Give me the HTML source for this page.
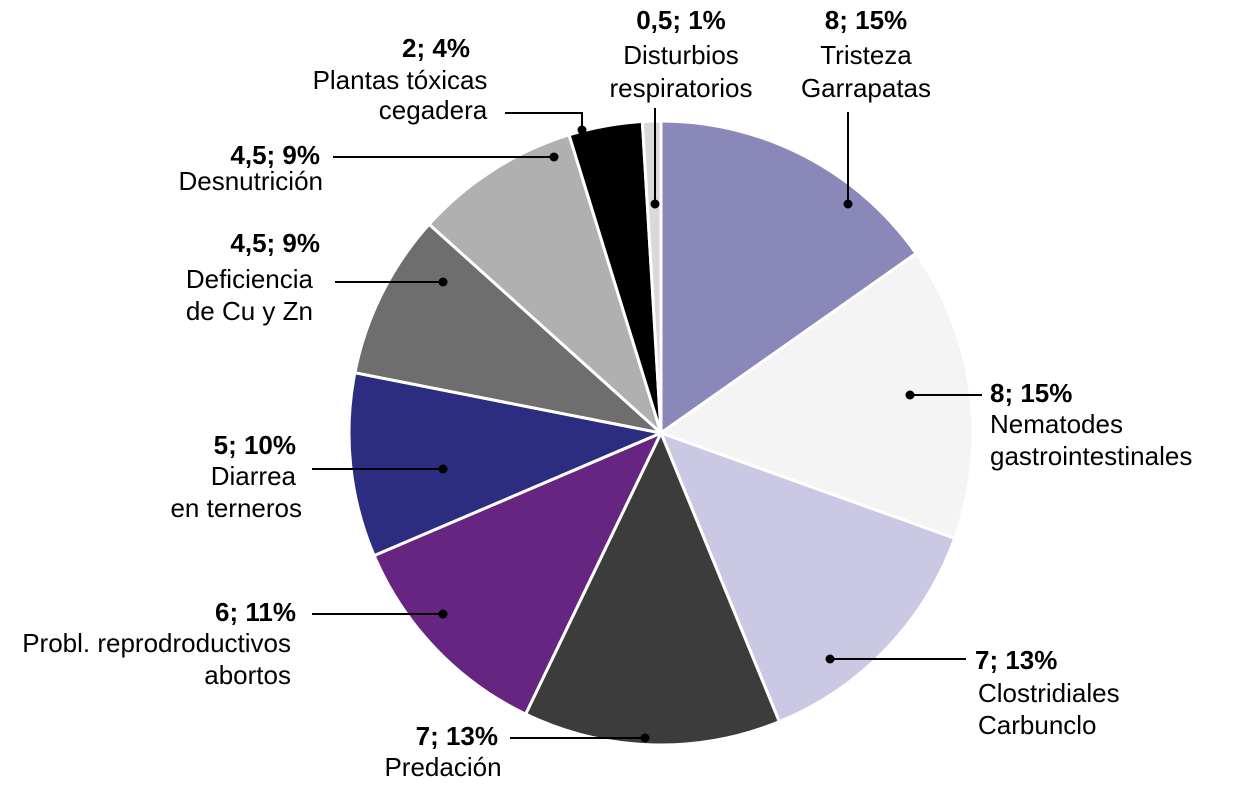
<!DOCTYPE html>
<html><head><meta charset="utf-8"><style>
body{margin:0;background:#fff;}
svg{display:block;font-family:"Liberation Sans",Arial,sans-serif;font-size:26px;}
.b{font-weight:bold;}
</style></head><body>
<svg width="1240" height="790" id="chart">
<g id="slices"></g>
<g id="labels"></g>
</svg>
<script>
const categories=["Tristeza Garrapatas","Nematodes gastrointestinales","Clostridiales Carbunclo","Predación","Probl. reprodroductivos abortos","Diarrea en terneros","Deficiencia de Cu y Zn","Desnutrición","Plantas tóxicas cegadera","Disturbios respiratorios"];
const values=[8,8,7,7,6,5,4.5,4.5,2,0.5];
const colors=["#8a88b8","#f4f4f4","#cbc8e4","#3c3c3c","#652581","#2c2c80","#6e6e6e","#b0b0b0","#000000","#d9d9d9"];
const NS="http://www.w3.org/2000/svg";
const cx=661,cy=433,R=312;
const total=values.reduce((a,b)=>a+b,0);
const sg=document.getElementById('slices');
let a0=0;
values.forEach((v,i)=>{
  const a1=a0+v/total*Math.PI*2;
  const p=(a)=>[cx+R*Math.sin(a),cy-R*Math.cos(a)];
  const [x0,y0]=p(a0),[x1,y1]=p(a1);
  const large=(a1-a0)>Math.PI?1:0;
  const path=document.createElementNS(NS,'path');
  path.setAttribute('d',`M${cx},${cy}L${x0},${y0}A${R},${R} 0 ${large} 1 ${x1},${y1}Z`);
  path.setAttribute('fill',colors[i]);
  path.setAttribute('stroke','#fff');
  path.setAttribute('stroke-width','3');
  
  
  sg.appendChild(path);
  a0=a1;
});
const ann=[
 [[[848,112],[848,204]],[848,204],[[866,22,'middle',1,'8; 15%'],[866,57,'middle',0,'Tristeza'],[866,90,'middle',0,'Garrapatas']]],
 [[[910,395],[982,395]],[910,395],[[990,395,'start',1,'8; 15%'],[990,426,'start',0,'Nematodes'],[990,458,'start',0,'gastrointestinales']]],
 [[[830,659],[966,659]],[830,659],[[975,662,'start',1,'7; 13%'],[978,695,'start',0,'Clostridiales'],[978,727,'start',0,'Carbunclo']]],
 [[[510,738],[645,738]],[645,738],[[498,738,'end',1,'7; 13%'],[443,769,'middle',0,'Predación']]],
 [[[312,614],[443,614]],[443,614],[[296,614,'end',1,'6; 11%'],[291,645,'end',0,'Probl. reprodroductivos'],[291,677,'end',0,'abortos']]],
 [[[312,469],[443,469]],[443,469],[[296,447,'end',1,'5; 10%'],[296,478,'end',0,'Diarrea'],[302,510,'end',0,'en terneros']]],
 [[[335,282],[443,282]],[443,282],[[320,245,'end',1,'4,5; 9%'],[313,281,'end',0,'Deficiencia'],[313,313,'end',0,'de Cu y Zn']]],
 [[[333,157],[554,157]],[554,157],[[320,157,'end',1,'4,5; 9%'],[323,183,'end',0,'Desnutrición']]],
 [[[505,113],[582,113],[582,130]],[582,130],[[436,50,'middle',1,'2; 4%'],[400,82,'middle',0,'Plantas tóxicas'],[433,112,'middle',0,'cegadera']]],
 [[[655,108],[655,204]],[655,204],[[681,22,'middle',1,'0,5; 1%'],[681,57,'middle',0,'Disturbios'],[681,90,'middle',0,'respiratorios']]]
];
const lg=document.getElementById('labels');
ann.forEach((a,i)=>{
  const pl=document.createElementNS(NS,'polyline');
  pl.setAttribute('points',a[0].map(p=>p.join(',')).join(' '));
  pl.setAttribute('fill','none');pl.setAttribute('stroke','#000');pl.setAttribute('stroke-width','2');
  
  
  lg.appendChild(pl);
  const c=document.createElementNS(NS,'circle');
  c.setAttribute('cx',a[1][0]);c.setAttribute('cy',a[1][1]);c.setAttribute('r','4.5');
  
  
  lg.appendChild(c);
  a[2].forEach((t,j)=>{
    const tx=document.createElementNS(NS,'text');
    tx.setAttribute('x',t[0]);tx.setAttribute('y',t[1]);
    tx.setAttribute('text-anchor',t[2]);tx.setAttribute('dominant-baseline','middle');
    if(t[3])tx.setAttribute('class','b');
    tx.textContent=t[4];
    
    
    lg.appendChild(tx);
  });
});
</script>
</body></html>
